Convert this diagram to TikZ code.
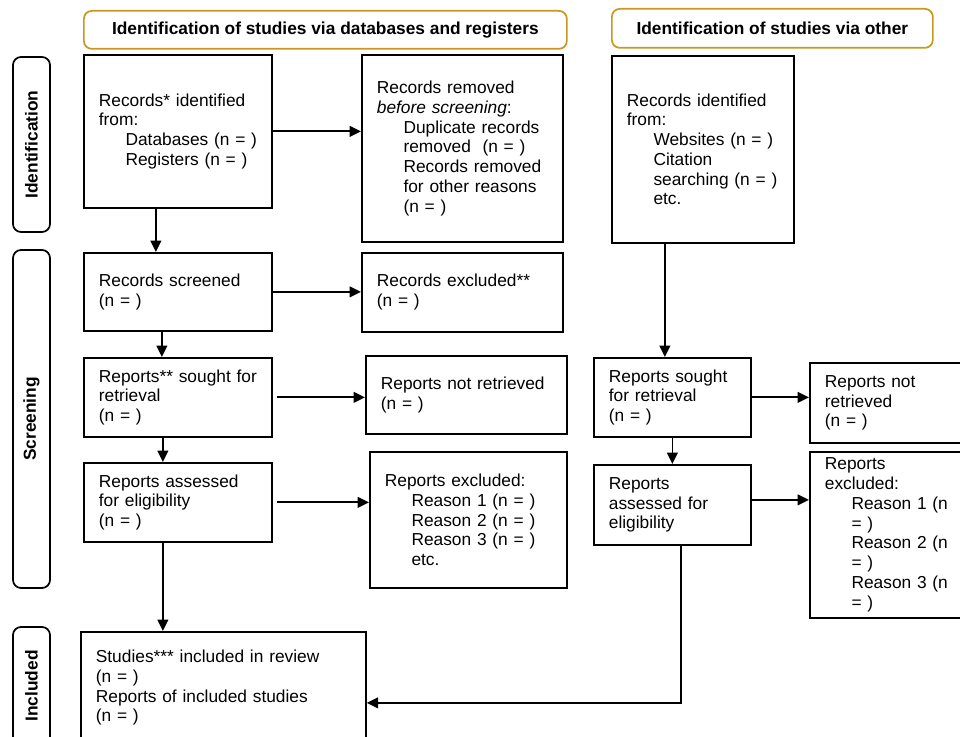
\documentclass[tikz,border=0pt]{standalone}
\usepackage{fontspec}
\setmainfont{Liberation Sans}
\usetikzlibrary{arrows.meta}
\definecolor{prismagold}{RGB}{200,152,32}
\newcommand{\subline}[1]{\mbox{\hspace*{20pt}#1}}
\tikzset{line/.style={draw, line width=1.3pt, -{Triangle[length=8.5pt,width=8pt]}}}
\tikzset{box/.style 2 args={draw, line width=1.3pt, anchor=north west, align=left, inner xsep=11.25pt, inner ysep=0pt, text width=#1*0.75pt-22.5pt, minimum height=#2*0.75pt, font=\fontsize{13}{14.8}\selectfont}}
\tikzset{header/.style 2 args={draw=prismagold, line width=1.3pt, rounded corners=6pt, anchor=north west, minimum width=#1*0.75pt, minimum height=#2*0.75pt, font=\fontsize{13}{15}\selectfont\bfseries}}
\tikzset{side/.style 2 args={draw, line width=1.3pt, rounded corners=6pt, rotate=90, minimum width=#2*0.75pt, minimum height=#1*0.75pt, font=\fontsize{13}{15}\selectfont\bfseries}}

\begin{document}
\begin{tikzpicture}[x=0.75pt, y=-0.75pt]
\useasboundingbox (0,0) rectangle (960,737);

% headers and phases
\node [header={483}{38}] (head_db) at (83,10) {Identification of studies via databases and registers};
\node [header={321}{39}] (head_other) at (611,8) {Identification of studies via other};
\node [side={37}{175}] (phase_id) at (31.5,144.5) {Identification};
\node [side={37}{338}] (phase_scr) at (31.5,419) {Screening};
\node [side={37}{118}] (phase_inc) at (31.5,686) {Included};

% databases and registers
\node [box={188}{153}] (rec_id) at (83,54) {Records* identified\\from:\\\subline{Databases (n = )}\\\subline{Registers (n = )}};
\node [box={201}{187}] (rec_removed) at (361,54) {Records removed\\\textit{before screening}:\\\subline{Duplicate records}\\\subline{removed\ \ (n = )}\\\subline{Records removed}\\\subline{for other reasons}\\\subline{(n = )}};
\node [box={188}{78}] (rec_screened) at (83,252) {Records screened\\(n = )};
\node [box={201}{79}] (rec_excluded) at (361,252) {Records excluded**\\(n = )};
\node [box={188}{79}] (rep_sought) at (83,357) {\mbox{Reports** sought for}\\retrieval\\(n = )};
\node [box={201}{78}] (rep_notret) at (365,355) {Reports not retrieved\\(n = )};
\node [box={188}{79}] (rep_assessed) at (83,462) {Reports assessed\\for eligibility\\(n = )};
\node [box={197}{136}] (rep_excluded) at (369,451) {Reports excluded:\\\subline{Reason 1 (n = )}\\\subline{Reason 2 (n = )}\\\subline{Reason 3 (n = )}\\\subline{etc.}};
\node [box={285}{112}] (included) at (80,631) {Studies*** included in review\\(n = )\\Reports of included studies\\(n = )};

% other methods
\node [box={182}{187}] (oth_id) at (611,55) {Records identified\\from:\\\subline{Websites (n = )}\\\subline{Citation}\\\subline{searching (n = )}\\\subline{etc.}};
\node [box={157}{79}] (oth_sought) at (593,357) {Reports sought\\for retrieval\\(n = )};
\node [box={170}{80}] (oth_notret) at (809,362) {Reports not\\retrieved\\(n = )};
\node [box={157}{80}] (oth_assessed) at (593,464) {Reports\\assessed for\\eligibility};
\node [box={170}{166}] (oth_excluded) at (809,451) {Reports\\excluded:\\\subline{Reason 1 (n}\\\subline{= )}\\\subline{Reason 2 (n}\\\subline{= )}\\\subline{Reason 3 (n}\\\subline{= )}};

\path [line] (rec_id.east) -- (rec_id.east-|rec_removed.west);
\path [line] ([xshift=-16.5pt]rec_id.south) -- ([xshift=-16.5pt]rec_id.south|-rec_screened.north);
\path [line] (rec_screened.east) -- (rec_screened.east-|rec_excluded.west);
\path [line] ([xshift=-12pt]rec_screened.south) -- ([xshift=-12pt]rec_screened.south|-rep_sought.north);
\path [line, shorten <=3pt] (rep_sought.east) -- (rep_sought.east-|rep_notret.west);
\path [line] ([xshift=-11.25pt]rep_sought.south) -- ([xshift=-11.25pt]rep_sought.south|-rep_assessed.north);
\path [line, shorten <=3pt] (rep_assessed.east) -- (rep_assessed.east-|rep_excluded.west);
\path [line] ([xshift=-11.25pt]rep_assessed.south) -- ([xshift=-11.25pt]rep_assessed.south|-included.north);
\path [line] ([xshift=-28.5pt]oth_id.south) -- ([xshift=-28.5pt]oth_id.south|-oth_sought.north);
\path [line] (oth_sought.east) -- (oth_sought.east-|oth_notret.west);
\path [line] (oth_sought.south) -- (oth_sought.south|-oth_assessed.north);
\path [line] ([yshift=3.75pt]oth_assessed.east) -- ([yshift=3.75pt]oth_assessed.east-|oth_excluded.west);
\path [line] ([xshift=6.4pt]oth_assessed.south) |- ([yshift=-11.25pt]included.east);

\end{tikzpicture}
\end{document}
